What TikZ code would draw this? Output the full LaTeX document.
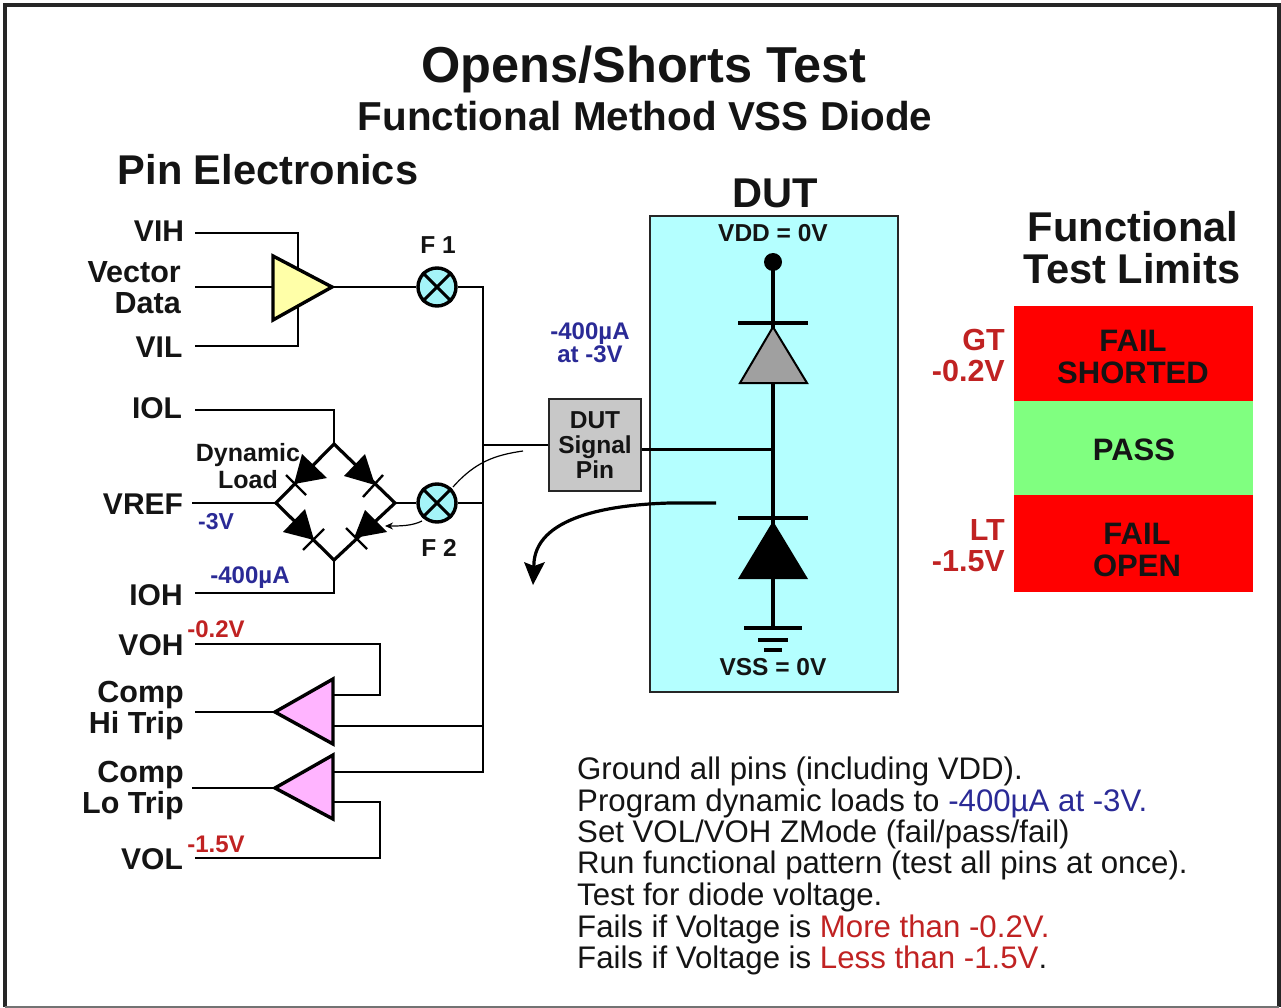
\documentclass[tikz,border=0pt]{standalone}
\usepackage{fontspec}
\setmainfont{Liberation Sans}
\usetikzlibrary{arrows.meta}
\definecolor{bluet}{HTML}{2A2A96}
\definecolor{redt}{HTML}{C02222}
\definecolor{dutc}{HTML}{B4FFFF}
\definecolor{fc}{HTML}{A4F4F8}
\definecolor{yel}{HTML}{FFFFA8}
\definecolor{pnk}{HTML}{FFB4FF}
\definecolor{redb}{HTML}{FF0000}
\definecolor{grnb}{HTML}{80FF80}
\definecolor{pinc}{HTML}{C8C8C8}
\definecolor{dtxt}{HTML}{141414}
\definecolor{gdio}{HTML}{A0A0A0}
\tikzset{
 wire/.style={draw=black,line width=2.2pt,line join=miter},
 bwire/.style={draw=black,line width=3.2pt},
 amp/.style={draw=black,line width=3.4pt,line join=miter},
 lab/.style={font=\fontsize{#1}{#1}\selectfont\bfseries,anchor=base,inner sep=0pt,text=dtxt},
 lab/.default=30,
 mlab/.style={font=\fontsize{30.5}{31}\selectfont\bfseries,align=center,inner sep=0pt,text=dtxt},
 rlab/.style={mlab,align=right,anchor=east},
 tiny/.style={font=\fontsize{#1}{#1}\selectfont\bfseries,anchor=base,inner sep=0pt},
 body/.style={font=\fontsize{31.2}{31.2}\selectfont,anchor=base west,inner sep=0pt,text=dtxt},
 fuse/.style={circle,draw=black,line width=3.4pt,fill=fc,minimum size=38pt,inner sep=0pt},
 limit/.style={minimum width=239pt,inner sep=0pt,anchor=north west},
 limtxt/.style={font=\fontsize{31}{32}\selectfont\bfseries,align=center,inner sep=0pt,text=dtxt},
}
\begin{document}
\begin{tikzpicture}[x=1pt,y=-1pt]
\useasboundingbox (0,0) rectangle (1281,1008);
\draw[black!85,line width=4pt] (5,1007) -- (5,5) -- (1279,5) -- (1279,1007);
\draw[black!55,line width=2pt] (5,1007) -- (1279,1007);
% titles
\node[lab=50.5] (t1) at (644,83) {Opens/Shorts Test};
\node[lab=40.4] (t2) at (645,131) {Functional Method VSS Diode};
\node[lab=41.6] (t3) at (268,185) {Pin Electronics};
\node[lab=41.6] (t4) at (775,208) {DUT};
\node[lab=41.6] (t5) at (1133,241) {Functional};
\node[lab=41.6] (t6) at (1132,283) {Test Limits};
% left labels
\node[lab] (vih) at (159,242) {VIH};
\node[rlab] (vd) at (181,288) {Vector\\Data};
\node[lab] (vil) at (159,357) {VIL};
\node[lab] (iol) at (157,418) {IOL};
\node[lab] (vref) at (143,514) {VREF};
\node[lab] (ioh) at (156,605) {IOH};
\node[lab] (voh) at (151,655) {VOH};
\node[rlab] (chi) at (184,711) {Comp\\Hi Trip};
\node[rlab] (clo) at (184,791) {Comp\\Lo Trip};
\node[lab] (vol) at (152,869) {VOL};
% coordinates
\coordinate (vihE) at (195,233); \coordinate (vilE) at (195,346); \coordinate (vdE) at (195,287);
\coordinate (iolE) at (195,410); \coordinate (vrefE) at (192,503); \coordinate (iohE) at (195,593);
\coordinate (vohE) at (195,644); \coordinate (volE) at (195,858); \coordinate (hiE) at (195,712); \coordinate (loE) at (192,788);
\coordinate (bT) at (334,444); \coordinate (bL) at (276,503); \coordinate (bR) at (395,503); \coordinate (bB) at (334,560);
\node[fuse] (f1) at (437,287) {};
\node[fuse] (f2) at (437,503) {};
\node[draw=black!85,line width=1.8pt,fill=pinc,minimum width=92pt,minimum height=92pt,inner sep=0pt] (pin) at (595,445) {};
\coordinate (busT) at (483,287); \coordinate (busB) at (483,772); \coordinate (busP) at (483,445); \coordinate (busF) at (483,503); \coordinate (busH) at (483,726);
% DUT box
\node[draw=black!85,line width=2.2pt,fill=dutc,minimum width=248pt,minimum height=476pt,anchor=north west,inner sep=0pt] (dut) at (649,215) {};
% wires left
\draw[wire] (vihE) -| (298,270);
\draw[wire] (vilE) -| (298,305);
\draw[wire] (vdE) -- (273,287);
\draw[wire] (333,287) -- (f1.west);
\draw[wire] (f1.east) -- (busT) -- (busB) -- (333,772);
\draw[wire] (busP) -- (pin.west |- busP);
\draw[wire] (f2.east) -- (busF);
\draw[wire] (busH) -- (333,726);
\draw[wire] (vohE) -- (380,644) -- (380,695) -- (333,695);
\draw[wire] (volE) -- (380,858) -- (380,802) -- (333,802);
\draw[wire] (hiE) -- (275,712);
\draw[wire] (loE) -- (275,788);
\draw[wire] (iolE) -| (bT);
\draw[wire] (iohE) -| (bB);
\draw[wire] (vrefE) -- (bL);
\draw[wire] (bR) -- (f2.west);
% amps
\draw[amp,fill=yel] (273,256) -- (332,287) -- (273,320) -- cycle;
\draw[amp,fill=pnk] (333,679) -- (275,712) -- (333,744) -- cycle;
\draw[amp,fill=pnk] (333,755) -- (275,788) -- (333,819) -- cycle;
% fuses crosses
\foreach \f in {f1,f2}{\draw[line width=3pt] (\f.45) -- (\f.225); \draw[line width=3pt] (\f.135) -- (\f.315);}
% bridge
\draw[bwire,line join=miter] (bT) -- (bL) -- (bB) -- (bR) -- cycle;
\fill (294,484) -- (302,454) -- (327,478) -- cycle;
\draw[wire,line width=2.4pt] (286,475) -- (306,495);
\fill (375,485) -- (365,454) -- (344,476) -- cycle;
\draw[wire,line width=2.4pt] (383,475) -- (363,497);
\fill (314,540) -- (305,509) -- (283,532) -- cycle;
\draw[wire,line width=2.4pt] (324,529) -- (303,550);
\fill (354,538) -- (365,510) -- (387,532) -- cycle;
\draw[wire,line width=2.4pt] (346,528) -- (367,549);
% thin curves
\draw[line width=1.2pt] (523,451) .. controls (495,455) and (475,462) .. (453,487);
\draw[line width=1.2pt,-{Stealth[length=8pt,width=7pt]}] (422,521) .. controls (412,526) and (400,526) .. (385,526);
% DUT content
\fill (773,262) circle (9);
\draw[bwire,line width=3.8pt] (773,262) -- (773,628);
\draw[bwire] (738,323) -- (808,323);
\draw[line width=2pt,fill=gdio] (773,327) -- (740,383) -- (807,383) -- cycle;
\draw[bwire] (738,518) -- (808,518);
\fill (773,521) -- (738,579) -- (808,579) -- cycle;
\draw[bwire] (744,628) -- (802,628);
\draw[bwire] (758,640) -- (788,640);
\draw[bwire] (764,650) -- (782,650);
\draw[wire,line width=3pt] (pin.east |- 0,449) -- (773,449);
\draw[line width=3.2pt] (716,503) -- (670,503) .. controls (600,505) and (530,520) .. (534,570);
\fill (533,585) -- (524,562) -- (534,566) -- (545,562) -- cycle;
% labels in DUT
\node[tiny=24.5,text=dtxt] (vdd) at (773,242) {VDD = 0V};
\node[tiny=24.5,text=dtxt] (vss) at (773,675) {VSS = 0V};
\node[mlab,font=\fontsize{24.5}{25}\selectfont\bfseries] (pintxt) at (595,445) {DUT\\Signal\\Pin};
\node[tiny=24,text=bluet] (a1) at (590,339) {-400µA};
\node[tiny=24,text=bluet] (a2) at (590,362) {at -3V};
% small labels
\node[tiny=24.5,text=dtxt] (f1t) at (438,254) {F 1};
\node[tiny=24.5,text=dtxt] (f2t) at (439,556) {F 2};
\node[mlab,font=\fontsize{25}{27}\selectfont\bfseries] (dyn) at (248,466) {Dynamic\\Load};
\node[tiny=23,text=bluet] (m3) at (216,529) {-3V};
\node[tiny=24,text=bluet] (m400) at (250,583) {-400µA};
\node[tiny=24,text=redt] (m02) at (216,637) {-0.2V};
\node[tiny=24,text=redt] (m15) at (216,852) {-1.5V};
% limits
\node[limit,fill=redb,minimum height=95pt] (l1) at (1014,306) {};
\node[limit,fill=grnb,minimum height=94pt] (l2) at (1014,401) {};
\node[limit,fill=redb,minimum height=97pt] (l3) at (1014,495) {};
\node[limtxt] (l1t) at (1133,357) {FAIL\\SHORTED};
\node[limtxt] (l2t) at (1134,450) {PASS};
\node[limtxt] (l3t) at (1137,550) {FAIL\\OPEN};
\node[tiny=30.5,text=redt,anchor=base east] (gt) at (1005,350) {GT};
\node[tiny=30.5,text=redt,anchor=base east] (g2) at (1005,381) {-0.2V};
\node[tiny=30.5,text=redt,anchor=base east] (lt) at (1005,540) {LT};
\node[tiny=30.5,text=redt,anchor=base east] (l15) at (1005,571) {-1.5V};
% body
\node[body] (b1) at (577,779) {Ground all pins (including VDD).};
\node[body] (b2) at (577,811) {Program dynamic loads to \textcolor{bluet}{-400µA at -3V.}};
\node[body] (b3) at (577,842) {Set VOL/VOH ZMode (fail/pass/fail)};
\node[body] (b4) at (577,873) {Run functional pattern (test all pins at once).};
\node[body] (b5) at (577,905) {Test for diode voltage.};
\node[body] (b6) at (577,937) {Fails if Voltage is \textcolor{redt}{More than -0.2V.}};
\node[body] (b7) at (577,968) {Fails if Voltage is \textcolor{redt}{Less than -1.5V}.};
\end{tikzpicture}
\end{document}
